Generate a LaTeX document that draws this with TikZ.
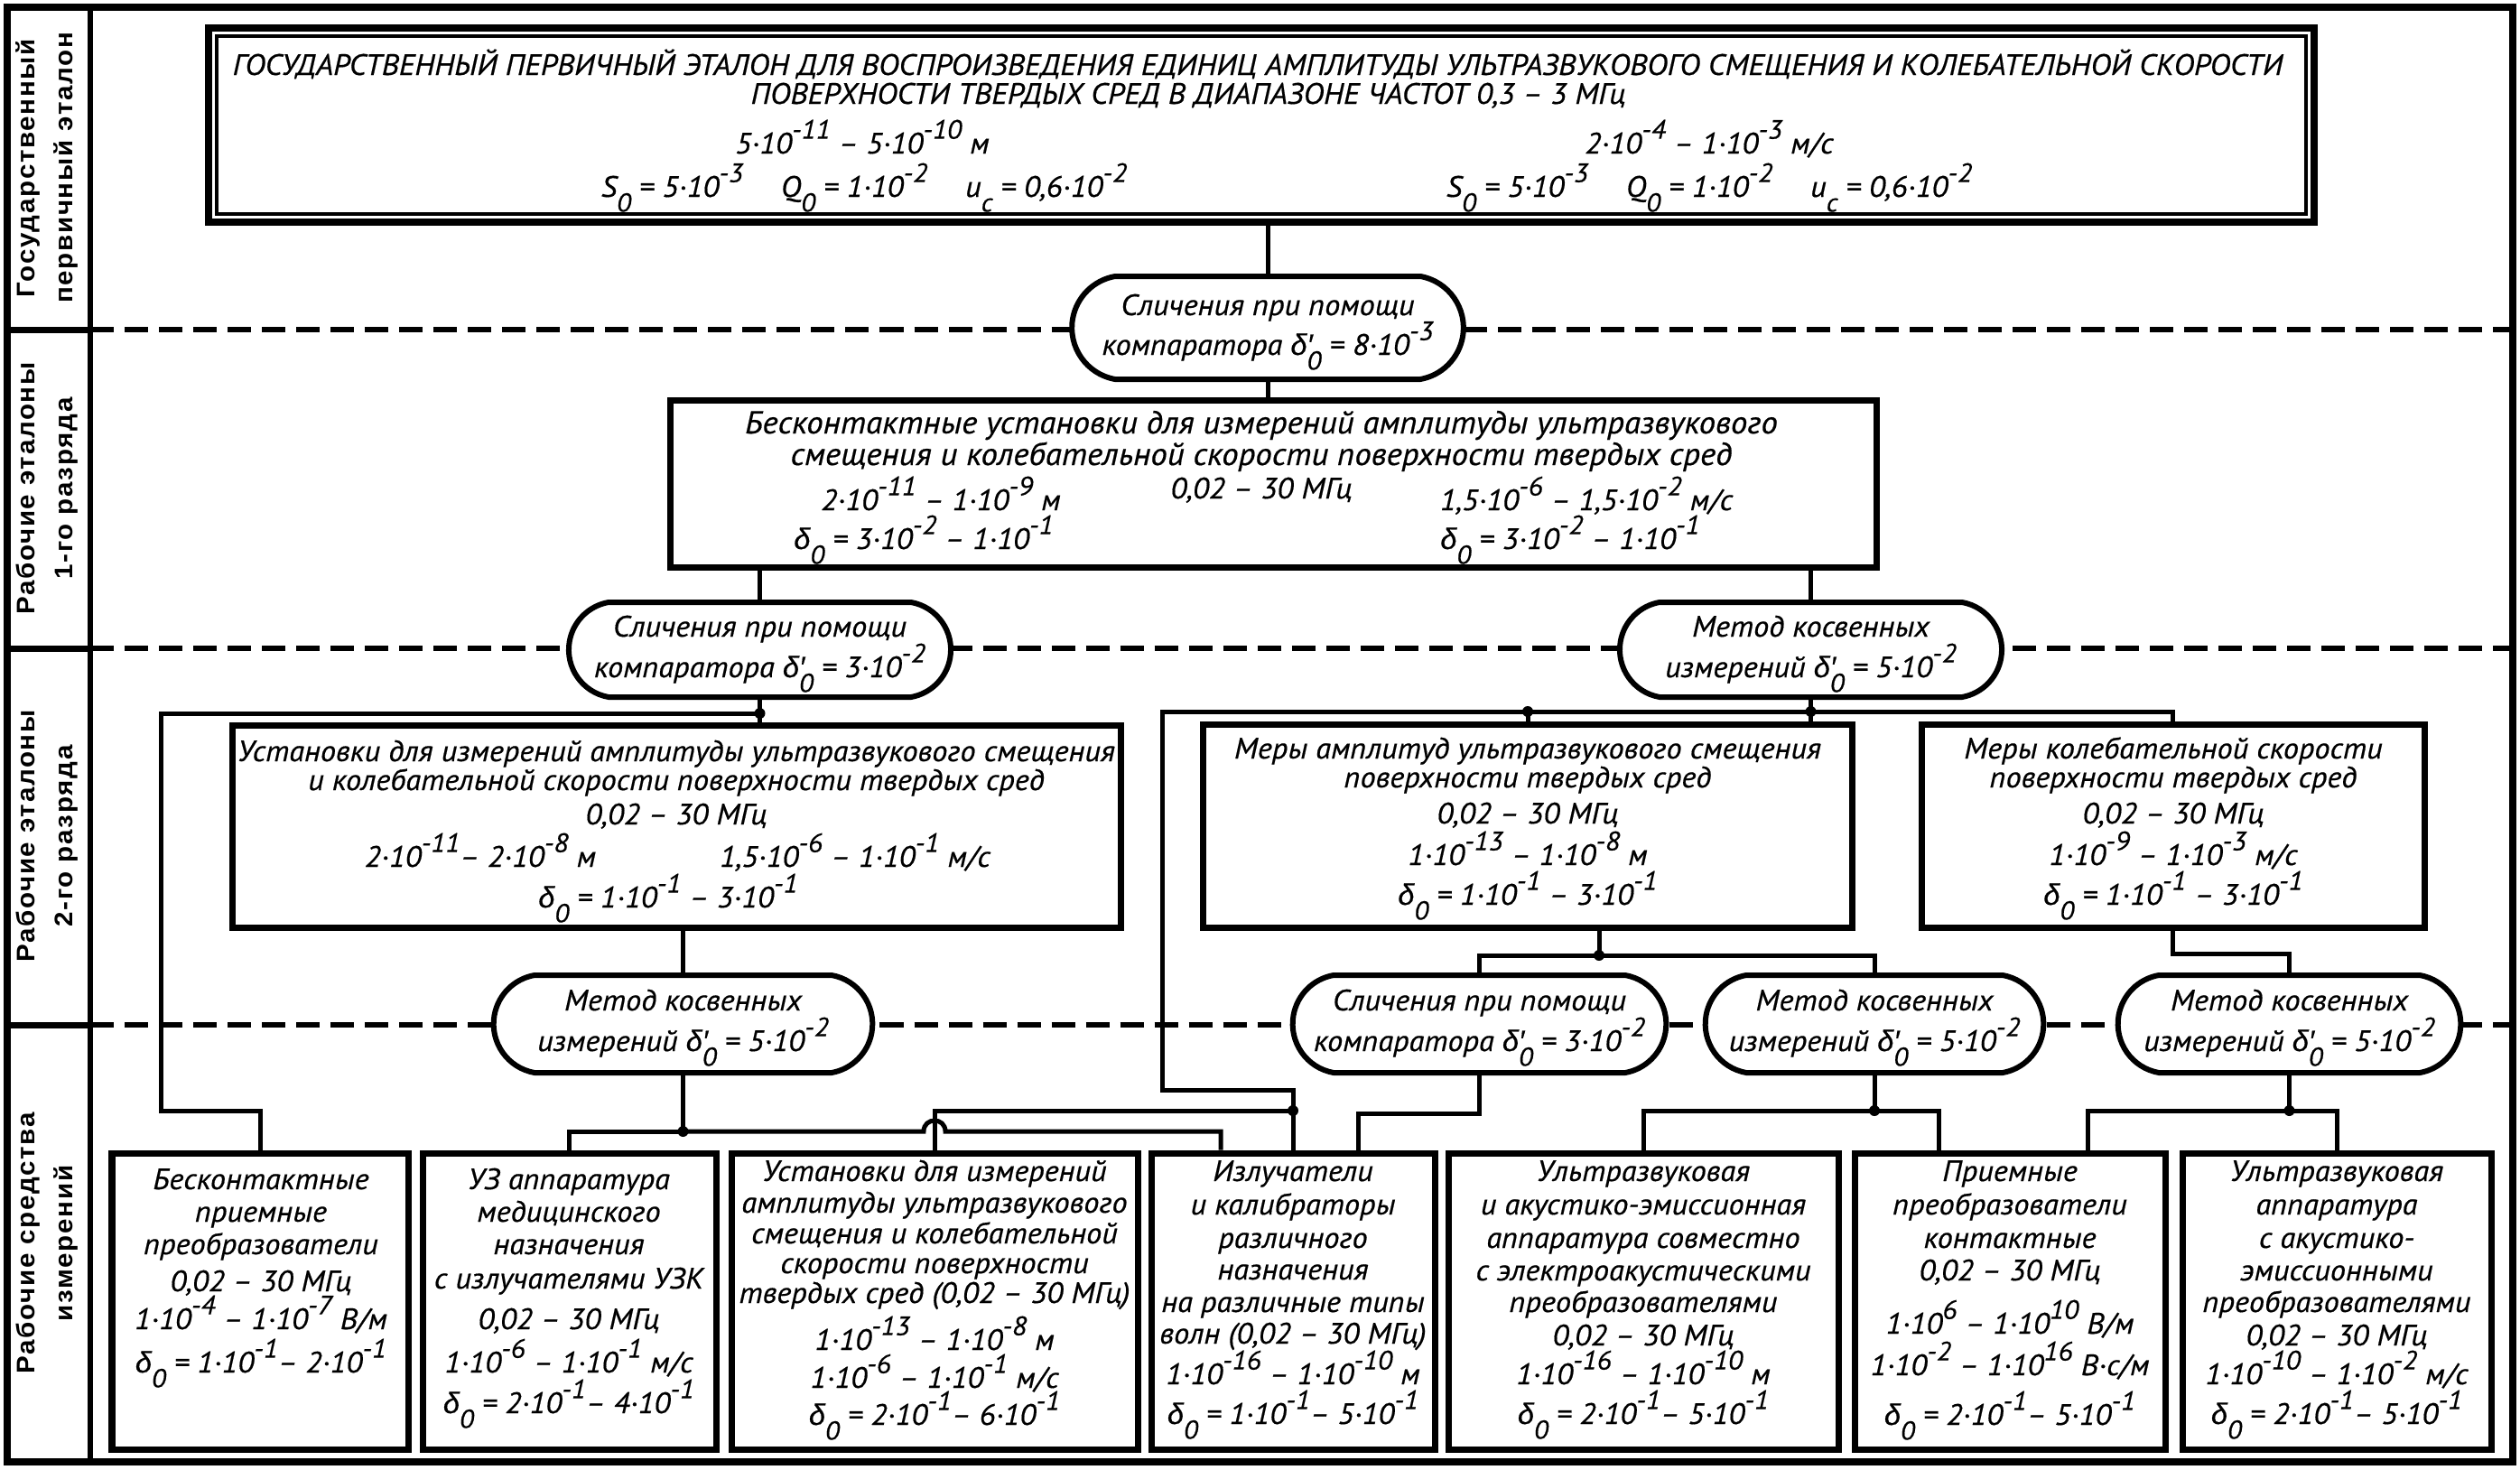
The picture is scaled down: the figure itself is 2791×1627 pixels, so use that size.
\documentclass[tikz,border=0pt]{standalone}
\usepackage{fontspec}
\setmainfont{PT Sans}[FakeStretch=1.05,FakeBold=0.5]
\newfontfamily\grk{Liberation Sans}[FakeBold=0.5]
\newfontfamily\lblfont{Liberation Sans}[LetterSpace=6,FakeStretch=1.05]
\usetikzlibrary{fit,calc,shapes.misc}
\newcommand\pw[1]{\raisebox{0.5em}{\scalebox{0.9}{#1}}}
\newcommand\sbs[1]{\raisebox{-0.5em}{\scalebox{0.88}{#1}}}
\newcommand\tn[1]{·10\pw{#1}}
\newcommand\dd{{\grk δ}\sbs{0}}
\newcommand\dpr{{\grk δ\rlap{′}}\sbs{0}}
\newcommand\TL[4]{\node[txt] (#1) at (#2,#3) {#4};}
\begin{document}
\begin{tikzpicture}[x=0.01cm,y=-0.01cm,
  conn/.style={line width=0.05cm},
  boxst/.style={draw, line width=0.07cm, fill=white, inner sep=0pt},
  ovalst/.style={draw, line width=0.06cm, fill=white, rounded rectangle, rounded rectangle arc length=160, inner sep=0pt},
  txt/.style={anchor=base, inner sep=0pt, font=\fontsize{9.3}{10}\selectfont\itshape},
  bigtxt/.style={txt, font=\fontsize{10}{11}\selectfont\itshape},
  dot/.style={circle, fill, inner sep=0pt, minimum size=0.12cm},
  divdash/.style={line width=0.06cm, dash pattern=on 0.26cm off 0.12cm},
  divsolid/.style={line width=0.07cm},
  lbl/.style={rotate=90, align=center, inner sep=0pt, font=\lblfont\bfseries\fontsize{8}{12}\selectfont}]
\useasboundingbox (0,0) rectangle (2791,1627);
% frame and rows
\draw[line width=0.08cm] (8,8) rectangle (2783,1619);
\draw[line width=0.05cm] (100,8) -- (100,1619);
\foreach \yy in {365,718,1135} {
  \draw[divsolid] (8,\yy) -- (100,\yy);
  \draw[divdash] (100,\yy) -- (2783,\yy);
}
\node[lbl] (r1) at (52,186) {Государственный\\первичный эталон};
\node[lbl] (r2) at (52,541) {Рабочие эталоны\\1-го разряда};
\node[lbl] (r3) at (52,926) {Рабочие эталоны\\2-го разряда};
\node[lbl] (r4) at (52,1377) {Рабочие средства\\измерений};
% boxes
\node[boxst, line width=0.08cm, fit={(231,31)(2563,246)}] (main) {};
\node[draw, line width=0.035cm, inner sep=0pt, fit={(240,40)(2554,237)}] (maininner) {};
\node[ovalst, fit={(1235,306)(1573,420)}] (O1) {};
\node[boxst, fit={(742,443)(2078,628)}] (B2) {};
\node[ovalst, fit={(674,667)(1009,772)}] (O2L) {};
\node[ovalst, fit={(1838,667)(2173,772)}] (O2R) {};
\node[boxst, fit={(257,803)(1241,1027)}] (B3a) {};
\node[boxst, fit={(1332,802)(2051,1027)}] (B3b) {};
\node[boxst, fit={(2128,802)(2685,1027)}] (B3c) {};
\node[ovalst, fit={(592,1080)(921,1188)}] (O3a) {};
\node[ovalst, fit={(1477,1080)(1800,1188)}] (O3b) {};
\node[ovalst, fit={(1934,1080)(2218,1188)}] (O3c) {};
\node[ovalst, fit={(2391,1080)(2680,1188)}] (O3d) {};
\node[boxst, fit={(124,1277)(452,1605)}] (B4a) {};
\node[boxst, fit={(468,1277)(793,1605)}] (B4b) {};
\node[boxst, fit={(810,1277)(1260,1605)}] (B4c) {};
\node[boxst, fit={(1275,1277)(1589,1605)}] (B4d) {};
\node[boxst, fit={(1604,1277)(2036,1605)}] (B4e) {};
\node[boxst, fit={(2054,1277)(2398,1605)}] (B4f) {};
\node[boxst, fit={(2417,1277)(2759,1605)}] (B4g) {};
% junction dots
\node[dot] (j1) at (841.5,790) {};
\node[dot] (j2) at (2005.5,788) {};
\node[dot] (j3) at (1692,788) {};
\node[dot] (j4) at (756.5,1253) {};
\node[dot] (j5) at (1432,1230) {};
\node[dot] (j6) at (1771,1058) {};
\node[dot] (j7) at (2076,1230) {};
\node[dot] (j8) at (2535.5,1230) {};
\coordinate (k1) at (1287,788);
% connectors
\draw[conn] (O1.north |- main.south) -- (O1.north);
\draw[conn] (O1.south) -- (O1.south |- B2.north);
\draw[conn] (O2L.north |- B2.south) -- (O2L.north);
\draw[conn] (O2R.north |- B2.south) -- (O2R.north);
\draw[conn] (O2L.south) -- (O2L.south |- B3a.north);
\draw[conn] (j1.center) -| (178,1230) -| (B4a.north);
\draw[conn] (O2R.south) -- (O2R.south |- B3b.north);
\draw[conn] (B3c.north) |- (k1) -- (1287,1207) -| (j5.center) -- (j5 |- B4d.north);
\draw[conn] (j3.center) -- (j3 |- B3b.north);
\draw[conn] (O3a.north |- B3a.south) -- (O3a.north);
\draw[conn] (O3a.south) -- (j4.center);
\draw[conn] (B4b.north) |- (j4.center);
\draw[conn] (j4.center) -- (1023,1253) .. controls (1023,1237) and (1047,1237) .. (1047,1253) -| ($(B4d.north)+(-80,0)$);
\draw[conn] (j5.center) -| (B4c.north);
\draw[conn] (j6 |- B3b.south) -- (j6.center);
\draw[conn] (O3b.north) |- (j6.center);
\draw[conn] (O3c.north) |- (j6.center);
\draw[conn] (B3c.south) -- ++(0,26) -| (O3d.north);
\draw[conn] (O3b.south) -- ++(0,42) -| ($(B4d.north)+(72,0)$);
\draw[conn] (O3c.south) -- (j7.center);
\draw[conn] (B4e.north) |- (j7.center);
\draw[conn] (j7.center) -| ($(B4f.north)+(-79,0)$);
\draw[conn] (O3d.south) -- (j8.center);
\draw[conn] (j8.center) -| ($(B4f.north)+(86,0)$);
\draw[conn] (j8.center) -| (B4g.north);
% texts: main box
\TL{m1}{1393}{83}{ГОСУДАРСТВЕННЫЙ ПЕРВИЧНЫЙ ЭТАЛОН ДЛЯ ВОСПРОИЗВЕДЕНИЯ ЕДИНИЦ АМПЛИТУДЫ УЛЬТРАЗВУКОВОГО СМЕЩЕНИЯ И КОЛЕБАТЕЛЬНОЙ СКОРОСТИ}
\TL{m2}{1316}{115}{ПОВЕРХНОСТИ ТВЕРДЫХ СРЕД В ДИАПАЗОНЕ ЧАСТОТ 0,3 – 3 МГц}
\TL{m3}{955}{170}{5\tn{-11} – 5\tn{-10} м}
\TL{m4}{1893}{170}{2\tn{-4} – 1\tn{-3} м/с}
\TL{m5}{957}{218}{S\sbs{0} = 5\tn{-3}\quad\ Q\sbs{0} = 1\tn{-2}\quad\ u\sbs{c} = 0,6\tn{-2}}
\TL{m6}{1893}{218}{S\sbs{0} = 5\tn{-3}\quad\ Q\sbs{0} = 1\tn{-2}\quad\ u\sbs{c} = 0,6\tn{-2}}
% O1
\TL{o1a}{1404}{349}{Сличения при помощи}
\TL{o1b}{1404}{393}{компаратора \dpr{} = 8\tn{-3}}
% B2
\node[bigtxt] (b2a) at (1397,480) {Бесконтактные установки для измерений амплитуды ультразвукового};
\node[bigtxt] (b2b) at (1397,515) {смещения и колебательной скорости поверхности твердых сред};
\TL{b2c}{1042}{565}{2\tn{-11} – 1\tn{-9} м}
\TL{b2d}{1397}{552}{0,02 – 30 МГц}
\TL{b2e}{1757}{565}{1,5\tn{-6} – 1,5\tn{-2} м/с}
\TL{b2f}{1023}{608}{\dd{} = 3\tn{-2} – 1\tn{-1}}
\TL{b2g}{1739}{608}{\dd{} = 3\tn{-2} – 1\tn{-1}}
% O2
\TL{o2a}{841.5}{705}{Сличения при помощи}
\TL{o2b}{841.5}{750}{компаратора \dpr{} = 3\tn{-2}}
\TL{o2c}{2005.5}{705}{Метод косвенных}
\TL{o2d}{2005.5}{750}{измерений \dpr{} = 5\tn{-2}}
% B3a
\TL{b3a1}{749}{843}{Установки для измерений амплитуды ультразвукового смещения}
\TL{b3a2}{749}{875}{и колебательной скорости поверхности твердых сред}
\TL{b3a3}{749}{913}{0,02 – 30 МГц}
\TL{b3a4}{532}{960}{2\tn{-11}– 2\tn{-8} м}
\TL{b3a5}{947}{960}{1,5\tn{-6} – 1\tn{-1} м/с}
\TL{b3a6}{740}{1005}{\dd{} = 1\tn{-1} – 3\tn{-1}}
% B3b
\TL{b3b1}{1692}{840}{Меры амплитуд ультразвукового смещения}
\TL{b3b2}{1692}{872}{поверхности твердых сред}
\TL{b3b3}{1692}{912}{0,02 – 30 МГц}
\TL{b3b4}{1692}{958}{1\tn{-13} – 1\tn{-8} м}
\TL{b3b5}{1692}{1002}{\dd{} = 1\tn{-1} – 3\tn{-1}}
% B3c
\TL{b3c1}{2407}{840}{Меры колебательной скорости}
\TL{b3c2}{2407}{872}{поверхности твердых сред}
\TL{b3c3}{2407}{912}{0,02 – 30 МГц}
\TL{b3c4}{2407}{958}{1\tn{-9} – 1\tn{-3} м/с}
\TL{b3c5}{2407}{1002}{\dd{} = 1\tn{-1} – 3\tn{-1}}
% O3
\TL{o3a1}{756.5}{1119}{Метод косвенных}
\TL{o3a2}{756.5}{1164}{измерений \dpr{} = 5\tn{-2}}
\TL{o3b1}{1638.5}{1119}{Сличения при помощи}
\TL{o3b2}{1638.5}{1164}{компаратора \dpr{} = 3\tn{-2}}
\TL{o3c1}{2076}{1119}{Метод косвенных}
\TL{o3c2}{2076}{1164}{измерений \dpr{} = 5\tn{-2}}
\TL{o3d1}{2535.5}{1119}{Метод косвенных}
\TL{o3d2}{2535.5}{1164}{измерений \dpr{} = 5\tn{-2}}
% B4a
\TL{b4a1}{289}{1317}{Бесконтактные}
\TL{b4a2}{289}{1353}{приемные}
\TL{b4a3}{289}{1389}{преобразователи}
\TL{b4a4}{289}{1430}{0,02 – 30 МГц}
\TL{b4a5}{289}{1472}{1\tn{-4} – 1\tn{-7} В/м}
\TL{b4a6}{289}{1520}{\dd{} = 1\tn{-1}– 2\tn{-1}}
% B4b
\TL{b4b1}{630}{1317}{УЗ аппаратура}
\TL{b4b2}{630}{1353}{медицинского}
\TL{b4b3}{630}{1389}{назначения}
\TL{b4b4}{630}{1427}{с излучателями УЗК}
\TL{b4b5}{630}{1472}{0,02 – 30 МГц}
\TL{b4b6}{630}{1520}{1\tn{-6} – 1\tn{-1} м/с}
\TL{b4b7}{630}{1565}{\dd{} = 2\tn{-1}– 4\tn{-1}}
% B4c
\TL{b4c1}{1035}{1308}{Установки для измерений}
\TL{b4c2}{1035}{1343}{амплитуды ультразвукового}
\TL{b4c3}{1035}{1377}{смещения и колебательной}
\TL{b4c4}{1035}{1410}{скорости поверхности}
\TL{b4c5}{1035}{1443}{твердых сред (0,02 – 30 МГц)}
\TL{b4c6}{1035}{1495}{1\tn{-13} – 1\tn{-8} м}
\TL{b4c7}{1035}{1537}{1\tn{-6} – 1\tn{-1} м/с}
\TL{b4c8}{1035}{1578}{\dd{} = 2\tn{-1}– 6\tn{-1}}
% B4d
\TL{b4d1}{1432}{1308}{Излучатели}
\TL{b4d2}{1432}{1345}{и калибраторы}
\TL{b4d3}{1432}{1382}{различного}
\TL{b4d4}{1432}{1417}{назначения}
\TL{b4d5}{1432}{1453}{на различные типы}
\TL{b4d6}{1432}{1488}{волн (0,02 – 30 МГц)}
\TL{b4d7}{1432}{1533}{1\tn{-16} – 1\tn{-10} м}
\TL{b4d8}{1432}{1577}{\dd{} = 1\tn{-1}– 5\tn{-1}}
% B4e
\TL{b4e1}{1820}{1308}{Ультразвуковая}
\TL{b4e2}{1820}{1345}{и акустико-эмиссионная}
\TL{b4e3}{1820}{1382}{аппаратура совместно}
\TL{b4e4}{1820}{1418}{с электроакустическими}
\TL{b4e5}{1820}{1453}{преобразователями}
\TL{b4e6}{1820}{1490}{0,02 – 30 МГц}
\TL{b4e7}{1820}{1533}{1\tn{-16} – 1\tn{-10} м}
\TL{b4e8}{1820}{1577}{\dd{} = 2\tn{-1}– 5\tn{-1}}
% B4f
\TL{b4f1}{2226}{1308}{Приемные}
\TL{b4f2}{2226}{1345}{преобразователи}
\TL{b4f3}{2226}{1382}{контактные}
\TL{b4f4}{2226}{1418}{0,02 – 30 МГц}
\TL{b4f5}{2226}{1477}{1\tn{6} – 1\tn{10} В/м}
\TL{b4f6}{2226}{1523}{1\tn{-2} – 1\tn{16} В·с/м}
\TL{b4f7}{2226}{1578}{\dd{} = 2\tn{-1}– 5\tn{-1}}
% B4g
\TL{b4g1}{2588}{1308}{Ультразвуковая}
\TL{b4g2}{2588}{1345}{аппаратура}
\TL{b4g3}{2588}{1382}{с акустико-}
\TL{b4g4}{2588}{1418}{эмиссионными}
\TL{b4g5}{2588}{1453}{преобразователями}
\TL{b4g6}{2588}{1490}{0,02 – 30 МГц}
\TL{b4g7}{2588}{1533}{1\tn{-10} – 1\tn{-2} м/с}
\TL{b4g8}{2588}{1577}{\dd{} = 2\tn{-1}– 5\tn{-1}}
\end{tikzpicture}
\end{document}
